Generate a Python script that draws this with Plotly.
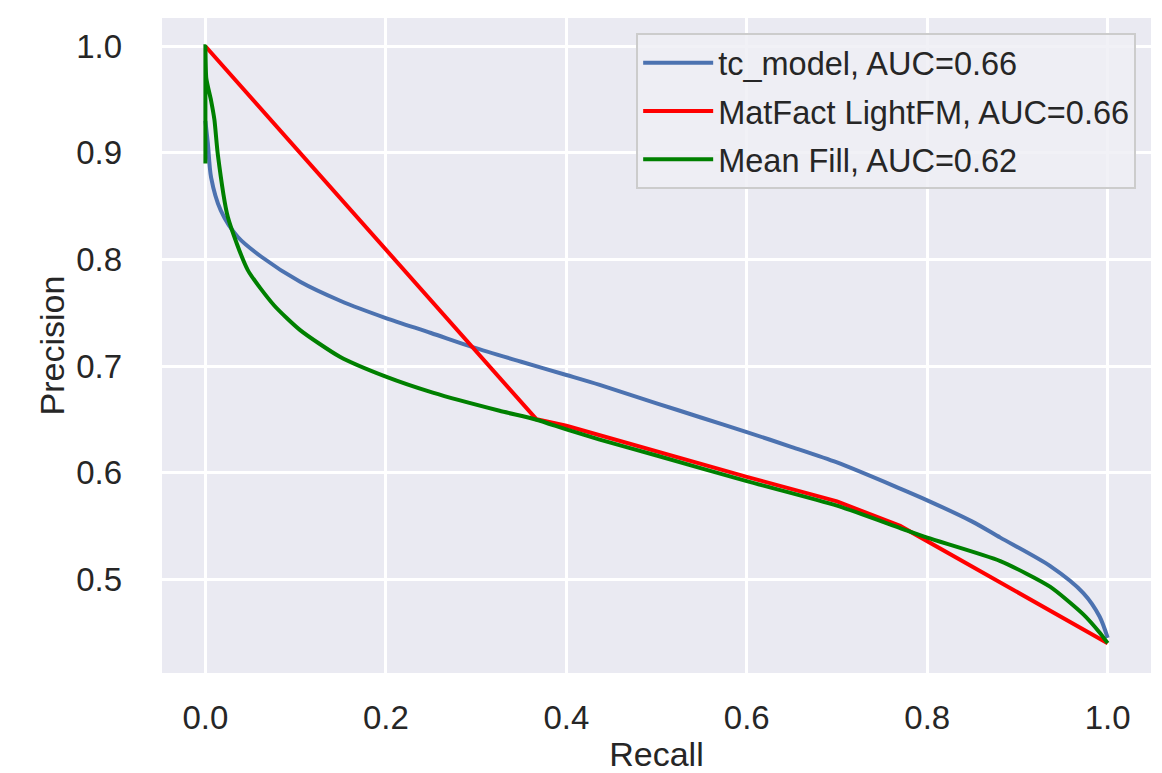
import plotly.graph_objects as go

# ---- data ----
tc_recall = [0.0, 0.0027, 0.0063, 0.017, 0.036, 0.062, 0.105, 0.15, 0.2, 0.25,
             0.297, 0.35, 0.4, 0.437, 0.5, 0.55, 0.6, 0.65, 0.7, 0.77, 0.8, 0.85,
             0.881, 0.936, 0.973, 0.991, 1.0]
tc_precision = [0.93, 0.909, 0.877, 0.846, 0.821, 0.8025, 0.779, 0.761, 0.745, 0.731,
                0.7175, 0.704, 0.6916, 0.6823, 0.665, 0.6515, 0.638, 0.624, 0.6095, 0.585, 0.574, 0.554,
                0.539, 0.5125, 0.487, 0.465, 0.445]

mf_recall = [0.0, 0.367, 0.4, 0.5, 0.6, 0.7, 0.77, 1.0]
mf_precision = [1.0, 0.650, 0.644, 0.62, 0.596, 0.573, 0.55, 0.44]

mean_recall = [0.0, 0.0, 0.001, 0.0063, 0.010, 0.0137, 0.0248, 0.047, 0.076, 0.105, 0.149,
               0.2, 0.252, 0.326, 0.367, 0.4, 0.437, 0.5, 0.6, 0.7, 0.77, 0.8, 0.881,
               0.936, 0.973, 0.991, 1.0]
mean_precision = [0.89, 1.0, 0.97, 0.949, 0.931, 0.899, 0.84, 0.79, 0.757, 0.7337, 0.7087,
                  0.690, 0.675, 0.658, 0.6496, 0.6405, 0.631, 0.616, 0.592, 0.569, 0.548, 0.539, 0.517,
                  0.493, 0.467, 0.45, 0.44]

series_names = ["tc_model, AUC=0.66", "MatFact LightFM, AUC=0.66", "Mean Fill, AUC=0.62"]
x_ticks = [0.0, 0.2, 0.4, 0.6, 0.8, 1.0]
y_ticks = [0.5, 0.6, 0.7, 0.8, 0.9, 1.0]

FONT = "Liberation Sans, Arial, sans-serif"
TXT = "#262626"

fig = go.Figure()
fig.add_trace(go.Scatter(x=tc_recall, y=tc_precision, mode="lines", name=series_names[0],
                         legendgroup="a",
                         line=dict(color="#4C72B0", width=4, shape="spline", smoothing=0.8)))
fig.add_trace(go.Scatter(x=mf_recall, y=mf_precision, mode="lines", name=series_names[1],
                         legendgroup="b",
                         line=dict(color="#FF0000", width=4)))
fig.add_trace(go.Scatter(x=mean_recall, y=mean_precision, mode="lines", name=series_names[2],
                         legendgroup="c",
                         line=dict(color="#008000", width=4, shape="spline", smoothing=0.6)))

axis_common = dict(showgrid=True, gridcolor="white", gridwidth=2.8, zeroline=False,
                   showline=False, ticks="", tickfont=dict(family=FONT, size=33, color=TXT),
                   tickformat=".1f", automargin=False)

fig.update_xaxes(range=[-0.0481, 1.048], tickvals=x_ticks, ticklabelstandoff=22,
                 title=dict(text="Recall", font=dict(family=FONT, size=34, color=TXT), standoff=19),
                 **axis_common)
fig.update_yaxes(range=[0.412, 1.0265], tickvals=y_ticks, ticklabelstandoff=39,
                 title=dict(text="Precision", font=dict(family=FONT, size=34, color=TXT), standoff=1),
                 **axis_common)

fig.update_layout(
    width=1162, height=773, autosize=False,
    margin=dict(l=162, r=11, t=18, b=100),
    paper_bgcolor="white", plot_bgcolor="#EAEAF2",
    font=dict(family=FONT, color=TXT),
    legend=dict(x=0.985, y=0.977, xanchor="right", yanchor="top",
                bgcolor="rgba(238,238,244,0.85)", bordercolor="#CCCCCC", borderwidth=2,
                font=dict(family=FONT, size=32.5, color=TXT), itemwidth=70,
                tracegroupgap=3),
    showlegend=True,
)

fig.write_html("out.html", config={"displayModeBar": False},
               post_script="document.body.style.margin='0px';document.body.style.overflow='hidden';")
